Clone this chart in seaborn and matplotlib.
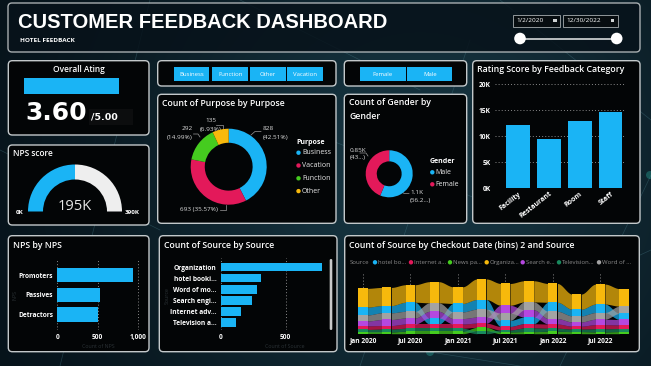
import numpy as np
import pandas as pd
import matplotlib
matplotlib.use("Agg")
import matplotlib.pyplot as plt
from matplotlib.patches import FancyBboxPatch, Wedge, Circle, Rectangle
import seaborn as sns

# ---------------- data ----------------
overall_rating = 3.60
rating_max = 5.00
nps_score = 195000
nps_max = 390000

purpose_names = ["Business", "Vacation", "Function", "Other"]
purpose_counts = [828, 693, 292, 135]

gender_names = ["Male", "Female"]
gender_counts = [1095, 853]

feedback_categories = ["Facility", "Restaurant", "Room", "Staff"]
feedback_scores = [12100, 9500, 12900, 14700]

nps_groups = ["Promoters", "Passives", "Detractors"]
nps_counts = [940, 530, 505]

source_labels = ["Organization", "hotel booki...", "Word of mo...", "Search engi...",
                 "Internet adv...", "Television a..."]
source_counts = [777, 308, 277, 241, 158, 115]

# ribbon chart: quarterly checkout bins, one list per source
bin_starts = pd.date_range("2020-01-01", periods=12, freq="QS")
ribbon_legend = ["hotel bo...", "Internet a...", "News pa...", "Organiza...",
                 "Search e...", "Television...", "Word of ..."]
hotel_booking = [26, 24, 30, 20, 28, 32, 20, 22, 30, 22, 28, 20]
internet_adv = [12, 12, 14, 14, 14, 14, 12, 14, 14, 10, 14, 12]
news_paper = [6, 6, 8, 8, 8, 12, 6, 7, 8, 7, 6, 7]
organization = [62, 60, 58, 70, 55, 68, 72, 70, 62, 50, 66, 58]
search_engine = [16, 20, 20, 22, 18, 20, 26, 24, 18, 14, 18, 18]
television = [8, 9, 10, 10, 10, 9, 6, 12, 10, 8, 10, 10]
word_of_mouth = [20, 22, 22, 28, 22, 26, 24, 26, 24, 20, 22, 24]

# ---------------- style ----------------
W, H = 651, 366
BG = "#0a1922"
BLUE = "#1ab4f5"
EDGE = "#c3c8ca"
TITLE = 6.3
purpose_colors = ["#1ab4f5", "#e3195a", "#45cc1f", "#f7b90c"]
gender_colors = ["#1ab4f5", "#e3195a"]
ribbon_colors = ["#1ab4f5", "#e3195a", "#45cc1f", "#f7b90c", "#b548e0", "#188a5e", "#a3a3a3"]

plt.rcParams["font.family"] = ["Open Sans", "DejaVu Sans"]


def rect(x0, y0, x1, y1):
    # pixel box -> figure fraction
    return [x0 / W, 1 - y1 / H, (x1 - x0) / W, (y1 - y0) / H]


fig = plt.figure(figsize=(W / 100, H / 100), dpi=100, facecolor=BG)
bg = fig.add_axes([0, 0, 1, 1])
bg.axis("off")

# soft background glow
yy, xx = np.mgrid[0:H, 0:W]
glow = np.exp(-((xx - 420) ** 2 + (yy - 170) ** 2) / (2 * 210 ** 2))
c0 = np.array([5, 16, 23]) / 255
c1 = np.array([22, 52, 64]) / 255
img = c0 + (c1 - c0) * glow[..., None]
bg.imshow(img, extent=(0, W, H, 0), aspect="auto", zorder=0)

# faint network lines
net = [((150, 0), (60, 366)), ((240, 0), (420, 90)), ((360, 366), (470, 40)),
       ((430, 352), (651, 250)), ((430, 352), (520, 366)), ((500, 0), (651, 120)),
       ((651, 175), (560, 366)), ((0, 150), (160, 230)), ((280, 120), (480, 200))]
for (a, b) in net:
    bg.plot([a[0], b[0]], [a[1], b[1]], color="#4f8592", lw=0.5, alpha=0.35, zorder=1)
for (px, py) in [(430, 352), (650, 175), (172, 20), (505, 84)]:
    bg.add_patch(Circle((px, py), 4, color="#2bb7a8", alpha=0.35, lw=0, zorder=1))
bg.set_xlim(0, W)
bg.set_ylim(H, 0)


def panel(x0, y0, x1, y1, face="#030506", alpha=1.0):
    bg.add_patch(FancyBboxPatch((x0, y0), x1 - x0, y1 - y0,
                                boxstyle="round,pad=0,rounding_size=4",
                                fc=face, ec=EDGE, lw=1.0, alpha=alpha, zorder=2))


def txt(x, y, s, size=6, color="white", weight="normal", ha="left", va="center", **kw):
    bg.text(x, y, s, fontsize=size, color=color, fontweight=weight,
            ha=ha, va=va, zorder=5, **kw)


# ---------------- header ----------------
bg.add_patch(FancyBboxPatch((8, 3), 632, 49, boxstyle="round,pad=0,rounding_size=4",
                            fc="#07121a", ec=EDGE, lw=1.0, alpha=0.85, zorder=2))
txt(18, 22, "CUSTOMER FEEDBACK DASHBOARD", size=14.5, weight="bold",
    family=["Liberation Sans"])
txt(20, 40, "HOTEL FEEDBACK", size=4.6, weight="bold")
for (x0, x1, s) in [(512.7, 560, "1/2/2020"), (562.7, 617.7, "12/30/2022")]:
    bg.add_patch(Rectangle((x0, 15), x1 - x0, 11.7, fc="#070d10", ec="#a7adb0", lw=0.6, zorder=3))
    txt(x0 + 3.5, 21, s, size=4.6)
    bg.add_patch(Rectangle((x1 - 7, 18.5), 3.5, 3.5, fc="#cfd3d4", lw=0, zorder=4))
bg.plot([520, 616.7], [38.5, 38.5], color="#b9bec0", lw=1.4, zorder=3)
for cx in (520, 616.7):
    bg.add_patch(Circle((cx, 38.5), 5.8, fc="white", ec="none", zorder=4))

# ---------------- overall rating ----------------
panel(8.3, 60.7, 149, 135)
txt(79, 69.5, "Overall Ating", size=6, weight="semibold", ha="center")
bg.add_patch(Rectangle((24, 77.5), 95, 16.5, fc=BLUE, lw=0, zorder=3))
bg.add_patch(Rectangle((89, 109), 43.7, 16, fc="#0c0d0e", lw=0, zorder=3))
txt(25, 113.5, f"{overall_rating:.2f}", size=18, weight="bold", family=["DejaVu Sans"])
txt(91, 117.5, f"/{rating_max:.2f}", size=6.8, weight="bold", family=["DejaVu Sans"])

# ---------------- NPS gauge ----------------
panel(8.3, 145, 149, 225)
txt(13, 153.5, "NPS score", size=6, weight="semibold")
gx, gy, r_out, r_in = 75, 211.5, 47, 32
split = 180 + 180 * nps_score / nps_max
bg.add_patch(Wedge((gx, gy), r_out, 180, split, width=r_out - r_in, fc=BLUE, lw=0, zorder=3))
bg.add_patch(Wedge((gx, gy), r_out, split, 360, width=r_out - r_in, fc="#eeeeee", lw=0, zorder=3))
txt(gx, 206.5, f"{nps_score / 1000:.0f}K", size=10.5, color="#e6e6e6", ha="center")
txt(16, 212.5, "0K", size=4.5, weight="bold")
txt(125, 212.5, f"{nps_max / 1000:.0f}K", size=4.5, weight="bold")

# ---------------- slicer buttons ----------------
panel(157.7, 60.7, 336, 86)
for (x0, x1, s) in [(174.3, 209.3, "Business"), (212.3, 248.3, "Function"),
                    (250, 285.7, "Other"), (287.3, 323.3, "Vacation")]:
    bg.add_patch(Rectangle((x0, 67), x1 - x0, 13.7, fc=BLUE, lw=0, zorder=3))
    txt((x0 + x1) / 2, 74, s, size=4.3, ha="center")
panel(344.3, 60.7, 466.7, 86)
for (x0, x1, s) in [(360, 405.7, "Female"), (407.3, 452.3, "Male")]:
    bg.add_patch(Rectangle((x0, 67), x1 - x0, 13.7, fc=BLUE, lw=0, zorder=3))
    txt((x0 + x1) / 2, 74, s, size=4.3, ha="center")

# ---------------- purpose donut ----------------
panel(157.7, 94.3, 336, 223.3)
txt(162, 103.5, "Count of Purpose by Purpose", size=TITLE, weight="semibold")
ax_p = fig.add_axes(rect(190.7, 128.7, 266.7, 204.7))
ax_p.pie(purpose_counts, colors=purpose_colors, startangle=90, counterclock=False,
         wedgeprops=dict(width=0.37, edgecolor="none"))
ax_p.set_xlim(-1, 1)
ax_p.set_ylim(-1, 1)
ax_p.set_facecolor("none")
tot = sum(purpose_counts)
pct = [100 * c / tot for c in purpose_counts]
txt(263, 129, f"{purpose_counts[0]}", size=4.6, color="#dddddd")
txt(263, 137, f"({pct[0]:.2f}%)", size=4.6, color="#dddddd")
txt(218, 209.5, f"{purpose_counts[1]} ({pct[1]:.2f}%)", size=4.6, color="#dddddd", ha="right")
txt(192.5, 129, f"{purpose_counts[2]}", size=4.6, color="#dddddd", ha="right")
txt(192.5, 137, f"({pct[2]:.2f}%)", size=4.6, color="#dddddd", ha="right")
txt(211, 121, f"{purpose_counts[3]}", size=4.6, color="#dddddd", ha="center")
txt(211, 129, f"({pct[3]:.2f}%)", size=4.6, color="#dddddd", ha="center")
for line in [[(251, 135), (255, 131.5), (261, 131.5)],
             [(219.5, 209.5), (226, 209.5), (226, 205)],
             [(216, 124.5), (223, 124.5), (223, 128.5)],
             [(193.5, 134), (198, 134), (200, 137)]]:
    xs, ys = zip(*line)
    bg.plot(xs, ys, color="#9a9a9a", lw=0.5, zorder=4)
txt(296, 142.5, "Purpose", size=5, weight="bold")
for i, (n, c) in enumerate(zip(purpose_names, purpose_colors)):
    y = 152.7 + i * 12.8
    bg.add_patch(Circle((298.5, y), 2.2, fc=c, lw=0, zorder=4))
    txt(302, y, n, size=5, color="#e8e8e8")

# ---------------- gender donut ----------------
panel(344.3, 94.3, 466.7, 223.3)
txt(349.3, 102.7, "Count of Gender by", size=TITLE, weight="semibold")
txt(349.3, 116.7, "Gender", size=TITLE, weight="semibold")
ax_g = fig.add_axes(rect(365.7, 150.3, 412.7, 197.3))
ax_g.pie(gender_counts, colors=gender_colors, startangle=90, counterclock=False,
         wedgeprops=dict(width=0.47, edgecolor="none"))
ax_g.set_xlim(-1, 1)
ax_g.set_ylim(-1, 1)
ax_g.set_facecolor("none")
gtot = sum(gender_counts)
gpct = [100 * c / gtot for c in gender_counts]
txt(349.3, 150, f"{gender_counts[1] / 1000:.2g}K", size=4.6, color="#dddddd")
txt(349.3, 157.5, f"({gpct[1]:.2f}"[:3] + "...)", size=4.6, color="#dddddd")
txt(410, 192.5, f"{gender_counts[0] / 1000:.2g}K", size=4.6, color="#dddddd")
txt(410, 200.5, f"({gpct[0]:.2f}"[:5] + "...)", size=4.6, color="#dddddd")
bg.plot([360, 366, 368], [153, 153, 156], color="#9a9a9a", lw=0.5, zorder=4)
bg.plot([401, 404, 409], [191, 193.5, 193.5], color="#9a9a9a", lw=0.5, zorder=4)
txt(430, 161.7, "Gender", size=5, weight="bold")
for i, (n, c) in enumerate(zip(gender_names, gender_colors)):
    y = 172.3 + i * 12
    bg.add_patch(Circle((432.3, y), 2.2, fc=c, lw=0, zorder=4))
    txt(435.7, y, n, size=5, color="#e8e8e8")

# ---------------- rating by feedback category ----------------
panel(472.7, 60.7, 640, 223.3)
txt(477.3, 69.5, "Rating Score by Feedback Category", size=TITLE, weight="semibold")
ax_r = fig.add_axes(rect(495, 84.3, 626, 188.3))
sns.barplot(x=feedback_categories, y=feedback_scores, color=BLUE, saturation=1,
            width=0.77, errorbar=None, edgecolor="none", linewidth=0, ax=ax_r)
ax_r.set_xlim(-0.74, 3.5)
ax_r.set_ylim(0, 20000)
ax_r.set_yticks([0, 5000, 10000, 15000, 20000])
ax_r.set_yticklabels([f"{v // 1000}K" for v in [0, 5000, 10000, 15000, 20000]])
ax_r.set_xticks(range(len(feedback_categories)))
ax_r.set_xticklabels(feedback_categories, rotation=38, ha="right", rotation_mode="anchor")

# ---------------- NPS by NPS ----------------
panel(8.3, 235.7, 149, 351.7)
txt(12.7, 246, "NPS by NPS", size=TITLE, weight="semibold")
ax_n = fig.add_axes(rect(57.3, 260, 140, 330))
sns.barplot(x=nps_counts, y=nps_groups, orient="h", color=BLUE, saturation=1,
            width=0.73, errorbar=None, edgecolor="none", linewidth=0, ax=ax_n)
ax_n.set_xlim(0, 1028)
ax_n.set_ylim(2.77, -0.76)
ax_n.set_xticks([0, 500, 1000])
ax_n.set_xticklabels(["0", "500", "1,000"])
txt(98, 347, "Count of NPS", size=3.8, color="#2b3236", ha="center")
txt(15, 295, "NPS", size=3.8, color="#2b3236", ha="center", rotation=90)

# ---------------- count of source ----------------
panel(159.3, 235.7, 337, 351.7)
txt(163.5, 245.5, "Count of Source by Source", size=TITLE, weight="semibold")
ax_s = fig.add_axes(rect(220.7, 258, 325, 330))
sns.barplot(x=source_counts, y=source_labels, orient="h", color=BLUE, saturation=1,
            width=0.77, errorbar=None, edgecolor="none", linewidth=0, ax=ax_s)
ax_s.set_xlim(0, 802)
ax_s.set_ylim(5.68, -0.83)
ax_s.set_xticks([0, 500])
bg.add_patch(FancyBboxPatch((329.7, 259), 2.6, 71, boxstyle="round,pad=0,rounding_size=1.3",
                            fc="#c9c9c9", lw=0, zorder=4))
txt(285, 347, "Count of Source", size=3.8, color="#2b3236", ha="center")
txt(167, 295, "Source", size=3.8, color="#2b3236", ha="center", rotation=90)

for ax in (ax_r, ax_n, ax_s):
    ax.set_facecolor("none")
    for sp in ax.spines.values():
        sp.set_visible(False)
    ax.set_xlabel("")
    ax.set_ylabel("")
    ax.tick_params(length=0, colors="white", labelsize=4.8, pad=3)
    for lab in ax.get_xticklabels() + ax.get_yticklabels():
        lab.set_fontweight("bold")
ax_r.yaxis.grid(True, ls=(0, (1, 2.2)), color="#8a8a8a", lw=0.7)
ax_r.tick_params(axis="x", pad=1.5, labelsize=5)
ax_n.xaxis.grid(True, ls=(0, (1, 2.2)), color="#8a8a8a", lw=0.7)
ax_s.xaxis.grid(True, ls=(0, (1, 2.2)), color="#8a8a8a", lw=0.7)
for ax in (ax_r, ax_n, ax_s):
    ax.set_axisbelow(True)

# ---------------- ribbon chart ----------------
panel(344.7, 235.7, 639.3, 351.7)
txt(349.3, 245.5, "Count of Source by Checkout Date (bins) 2 and Source", size=TITLE,
    weight="semibold")
txt(349.3, 262.3, "Source", size=4.3, color="#8c8c8c")
for (dx, lab, c) in zip([375, 411, 450, 486.7, 522.7, 559, 599], ribbon_legend, ribbon_colors):
    bg.add_patch(Circle((dx, 262.3), 2.2, fc=c, lw=0, zorder=4))
    txt(dx + 3.3, 262.3, lab, size=4.3, color="#8c8c8c")

ax_b = fig.add_axes(rect(357.5, 272, 629.5, 333.7))
ax_b.set_facecolor("none")
vals = np.array([hotel_booking, internet_adv, news_paper, organization,
                 search_engine, television, word_of_mouth], dtype=float)
n_src, n_bin = vals.shape
bottoms = np.zeros_like(vals)
for j in range(n_bin):
    acc = 0.0
    for i in np.argsort(vals[:, j], kind="stable"):
        bottoms[i, j] = acc
        acc += vals[i, j]
bw = 0.39
for j in range(n_bin - 1):
    xs = np.linspace(j + bw / 2, j + 1 - bw / 2, 40)
    t = (xs - xs[0]) / (xs[-1] - xs[0])
    s = t * t * (3 - 2 * t)
    for i in range(n_src):
        lo = bottoms[i, j] + (bottoms[i, j + 1] - bottoms[i, j]) * s
        top0 = bottoms[i, j] + vals[i, j]
        top1 = bottoms[i, j + 1] + vals[i, j + 1]
        hi = top0 + (top1 - top0) * s
        ax_b.fill_between(xs, lo, hi, color=ribbon_colors[i], alpha=0.72, lw=0, zorder=2)
for i in range(n_src):
    ax_b.bar(np.arange(n_bin), vals[i], bottom=bottoms[i], width=bw,
             color=ribbon_colors[i], lw=0, zorder=3)
ax_b.set_xlim(-0.23, n_bin - 1 + 0.23)
ax_b.set_ylim(0, 204)
ax_b.set_xticks(np.arange(0, n_bin, 2))
ax_b.set_xticklabels([d.strftime("%b %Y") for d in bin_starts[::2]])
ax_b.set_yticks([])
ax_b.xaxis.grid(True, ls=(0, (1, 2.2)), color="#8a8a8a", lw=0.7, zorder=0)
for sp in ax_b.spines.values():
    sp.set_visible(False)
ax_b.tick_params(length=0, colors="white", labelsize=4.8, pad=2.5)
for lab in ax_b.get_xticklabels():
    lab.set_fontweight("bold")

fig.savefig("out.png", dpi=100, facecolor=fig.get_facecolor())
